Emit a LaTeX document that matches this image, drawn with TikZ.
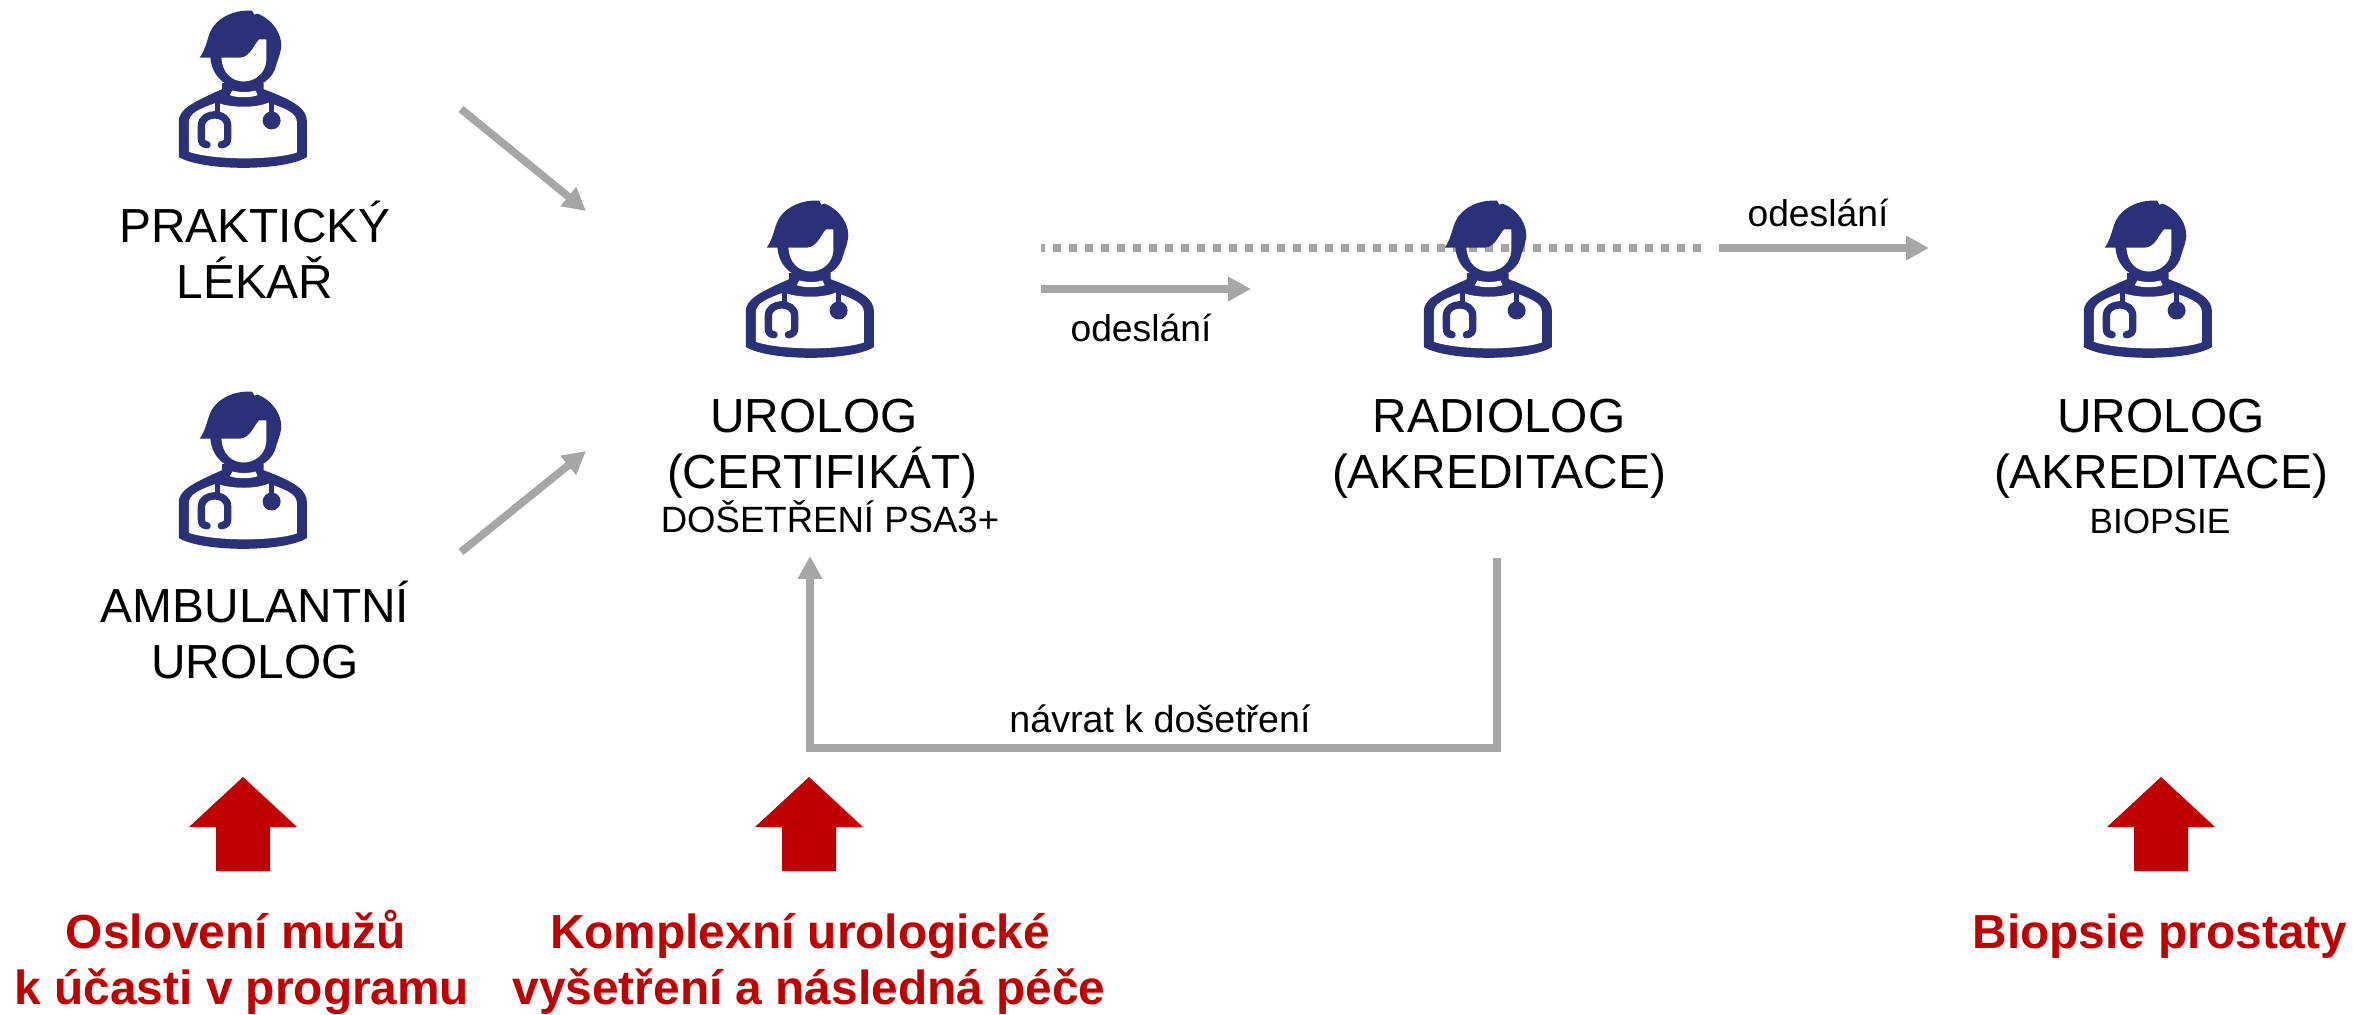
\documentclass[tikz,border=0pt]{standalone}
\usepackage{fontspec}
\setmainfont{Liberation Sans}
\usetikzlibrary{arrows.meta}
\definecolor{navy}{HTML}{2B3179}
\definecolor{flow}{HTML}{A6A6A6}
\definecolor{alert}{HTML}{C00000}
\tikzset{
  role/.style={inner sep=0pt,anchor=base,font=\fontsize{13.6}{16}\selectfont},
  sub/.style={inner sep=0pt,anchor=base,font=\fontsize{10.4}{13}\selectfont},
  edge/.style={inner sep=0pt,anchor=base,font=\fontsize{10.6}{12.5}\selectfont},
  goal/.style={inner sep=0pt,anchor=base,text=alert,font=\fontsize{13.6}{16}\selectfont\bfseries},
  link/.style={draw=flow,line width=2.2pt,-{Triangle[length=6.5pt,width=6.6pt]}},
  dotline/.style={draw=flow,line width=2.28pt,dash pattern=on 2.276pt off 2.276pt,dash phase=1.2pt},
  pics/doctor/.style={code={
    \begin{scope}[x=.0033333cm,y=-.0033333cm,xshift=-278*.0033333cm]
      % body
      \fill[navy] (85,472) -- (85,365) .. controls (85,330) and (120,310) .. (215,268)
        -- (215,250) -- (340,250) -- (340,268) .. controls (440,305) and (470,330) .. (470,365)
        -- (470,472) .. controls (400,515) and (160,515) .. (85,472) -- cycle;
      \fill[white] (115,456) -- (115,368) .. controls (115,340) and (150,325) .. (200,308)
        .. controls (240,325) and (320,325) .. (355,308)
        .. controls (410,328) and (440,340) .. (440,368) -- (440,458)
        .. controls (370,482) and (190,482) .. (115,456) -- cycle;
      \fill[white] (238,286) -- (246,272) .. controls (270,278) and (295,278) .. (316,272)
        -- (322,286) .. controls (300,294) and (260,294) .. (238,286) -- cycle;
      % head and hair, the face left open
      \fill[navy,even odd rule] (148,173) .. controls (165,150) and (170,120) .. (178,100)
        .. controls (195,55) and (250,28) .. (305,32) -- (312,44) -- (322,41)
        .. controls (370,60) and (395,105) .. (393,140)
        .. controls (390,165) and (382,180) .. (378,195)
        .. controls (370,235) and (330,265) .. (280,265)
        .. controls (225,265) and (185,230) .. (180,173) -- cycle
        (213,173) -- (270,173) .. controls (300,170) and (310,135) .. (326,118)
        -- (348,118) -- (348,185) .. controls (345,220) and (315,245) .. (280,245)
        .. controls (245,245) and (215,220) .. (213,173) -- cycle;
      % stethoscope
      \draw[navy,line width=1.5pt] (201,305) -- (201,340);
      \draw[navy,line width=2.1pt,line cap=round] (170,435) .. controls (155,433) and (153,425) .. (153,415)
        -- (153,378) .. controls (153,355) and (175,345) .. (193,345)
        .. controls (212,345) and (232,355) .. (232,378) -- (232,415)
        .. controls (232,425) and (228,433) .. (213,435);
      \draw[navy,line width=1.5pt] (363,305) -- (363,345);
      \fill[navy] (364,362) circle[radius=27];
    \end{scope}
  }},
}
\begin{document}
\begin{tikzpicture}[x=.01cm,y=-.01cm]
\useasboundingbox (0,0) rectangle (2353,1014);
% connector ends
\coordinate (gpout) at (461,109);
\coordinate (ambout) at (461,552);
\coordinate (ucin1) at (586,211);
\coordinate (ucin2) at (586,451);
\coordinate (dotA) at (1041,248);
\coordinate (dotB) at (1701,248);
\coordinate (sendA) at (1041,289);
\coordinate (sendB) at (1251,289);
\coordinate (sendC) at (1719,248);
\coordinate (sendD) at (1929,248);
\coordinate (backA) at (1497,558);
\coordinate (backB) at (810,556);
\coordinate (backY) at (0,748);
% dotted line runs behind the radiologist
\draw[dotline] (dotA) -- (dotB);
% doctors
\pic at (243,0) {doctor};
\pic at (243,381) {doctor};
\pic at (810,190) {doctor};
\pic at (1488,190) {doctor};
\pic at (2148,190) {doctor};
% text
\node[role] (gp1) at (255,242) {PRAKTICKÝ};
\node[role] (gp2) at (255,298) {LÉKAŘ};
\node[role] (amb1) at (255,622) {AMBULANTNÍ};
\node[role] (amb2) at (255,678) {UROLOG};
\node[role] (uc1) at (814,432) {UROLOG};
\node[role] (uc2) at (822,488) {(CERTIFIKÁT)};
\node[sub] (ucs) at (830,532) {DOŠETŘENÍ PSA3+};
\node[role] (rad1) at (1499,432) {RADIOLOG};
\node[role] (rad2) at (1499,488) {(AKREDITACE)};
\node[role] (ua1) at (2161,432) {UROLOG};
\node[role] (ua2) at (2161,488) {(AKREDITACE)};
\node[sub,font=\fontsize{10}{12.5}\selectfont] (uas) at (2160,533) {BIOPSIE};
% connectors
\draw[link] (gpout) -- (ucin1);
\draw[link] (ambout) -- (ucin2);
\draw[link] (sendA) -- (sendB);
\draw[link] (sendC) -- (sendD);
\draw[link] (backA) -- (backA |- backY) -- (backB |- backY) -- (backB);
\node[edge] (l1) at (1141,341) {odeslání};
\node[edge] (l2) at (1818,226) {odeslání};
\node[edge,font=\fontsize{10.7}{12.5}\selectfont] (l3) at (1160,732) {návrat k došetření};
% red arrows
\foreach \c in {243,809,2161}{
  \fill[alert] (\c-27,871) -- (\c-27,827) -- (\c-54,827) -- (\c,777) -- (\c+54,827) -- (\c+27,827) -- (\c+27,871) -- cycle;
}
% goals
\node[goal] (g1a) at (236,948) {Oslovení mužů};
\node[goal] (g1b) at (242,1004) {k účasti v programu};
\node[goal] (g2a) at (800,948) {Komplexní urologické};
\node[goal] (g2b) at (809,1004) {vyšetření a následná péče};
\node[goal] (g3) at (2160,948) {Biopsie prostaty};
\end{tikzpicture}
\end{document}
